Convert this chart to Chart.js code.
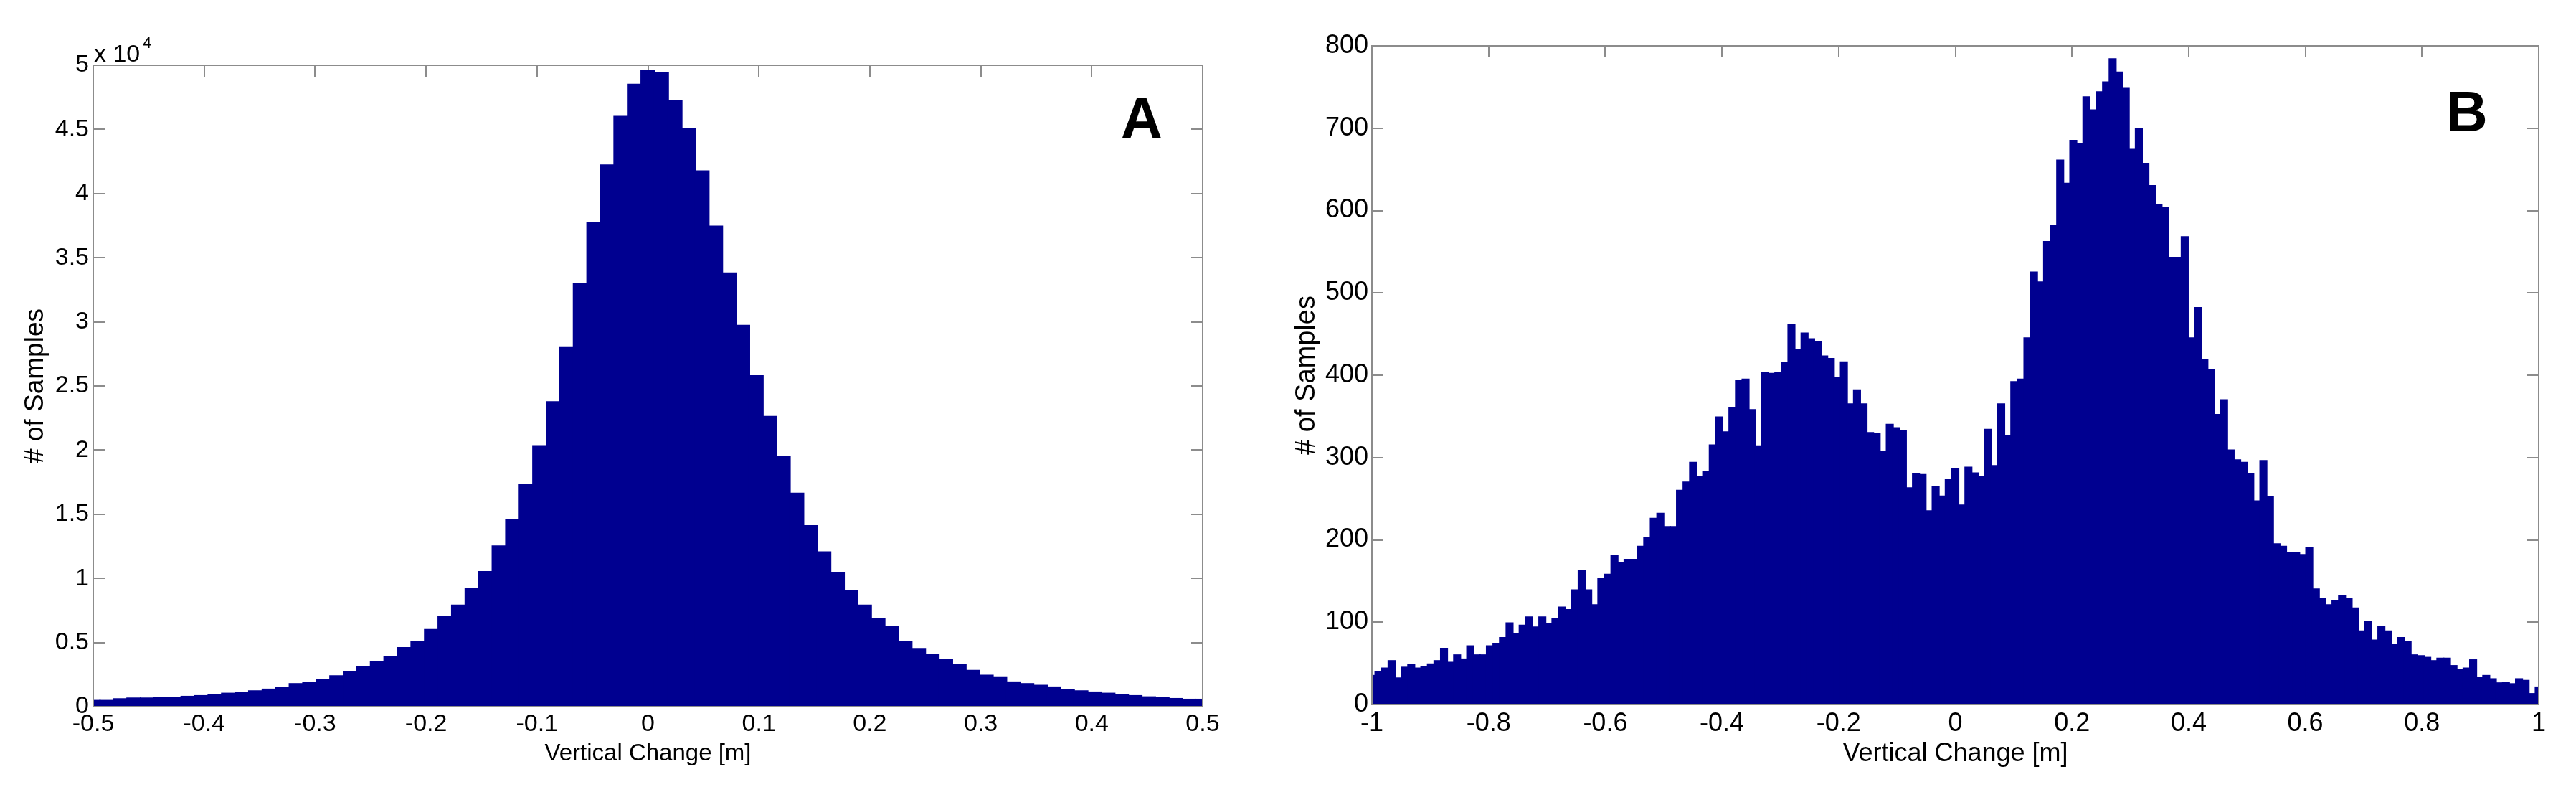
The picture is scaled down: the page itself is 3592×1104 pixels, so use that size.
<!DOCTYPE html>
<html>
<head>
<meta charset="utf-8">
<title>Vertical change histograms</title>
<script src="https://cdn.jsdelivr.net/npm/chart.js@4/dist/chart.umd.min.js"></script>
<style>
  html, body { margin: 0; padding: 0; background: #fff; }
  #wrap { position: relative; width: 3592px; height: 1104px; }
  canvas { position: absolute; top: 0; }
  #chartA { left: 0; }
  #chartB { left: 1800px; }
</style>
</head>
<body>
<div id="wrap">
  <canvas id="chartA" width="1800" height="1104"></canvas>
  <canvas id="chartB" width="1792" height="1104"></canvas>
</div>
<script>
// panel A: 83 bins, centres from -0.5 to 0.5
const binStartA = -0.5;
const binWidthA = 1 / 82;
const countsA = [
  470, 470, 600, 655, 655, 693, 693, 787, 843, 899,
  1030, 1105, 1217, 1349, 1498, 1779, 1873, 2098, 2397, 2716,
  3090, 3503, 3896, 4589, 5095, 5994, 7000, 7900, 9220, 10520,
  12520, 14540, 17320, 20330, 23750, 28030, 32950, 37750, 42210, 46000,
  48510, 49600, 49400, 47220, 45040, 41750, 37450, 33800, 29710, 25780,
  22610, 19500, 16620, 14090, 12050, 10420, 9050, 7900, 6850, 6210,
  5090, 4520, 4027, 3652, 3240, 2810, 2435, 2304, 1910, 1779,
  1648, 1517, 1330, 1217, 1124, 1030, 899, 843, 749, 693,
  618, 562, 562
];

// panel B: 179 bins, centres from -1 to 1
const binStartB = -1;
const binWidthB = 2 / 178;
const countsB = [
  35, 40, 44, 53, 32, 45, 48, 44, 46, 49,
  53, 68, 51, 60, 55, 71, 60, 60, 71, 74,
  81, 99, 86, 96, 106, 94, 106, 98, 104, 118,
  115, 139, 162, 139, 121, 153, 158, 181, 172, 176,
  176, 192, 203, 226, 232, 216, 216, 260, 270, 294,
  277, 283, 315, 349, 331, 360, 393, 395, 358, 314,
  403, 402, 403, 415, 461, 431, 451, 444, 441, 423,
  420, 397, 416, 365, 382, 365, 330, 329, 307, 340,
  336, 332, 263, 280, 279, 235, 265, 253, 273, 286,
  242, 288, 281, 277, 334, 290, 365, 326, 392, 395,
  445, 525, 513, 562, 582, 661, 633, 685, 681, 738,
  722, 744, 756, 784, 768, 749, 674, 699, 657, 630,
  607, 603, 543, 543, 568, 445, 482, 419, 406, 352,
  370, 309, 297, 294, 280, 247, 296, 252, 195, 192,
  184, 184, 182, 190, 140, 128, 121, 126, 132, 129,
  117, 89, 101, 78, 95, 89, 73, 81, 76, 60,
  59, 57, 53, 56, 56, 47, 42, 44, 54, 33,
  35, 31, 26, 27, 25, 31, 29, 13, 21
];

const xTitle = 'Vertical Change [m]';
const yTitle = '# of Samples';

const BAR = '#000090';
const AXIS = '#8c8c8c';
const TICK = 16;

Chart.defaults.font.family = '"Liberation Sans", Arial, Helvetica, sans-serif';
Chart.defaults.color = '#000';

// matlab style box: inward ticks under the bars, frame on top
const matlabBox = {
  id: 'matlabBox',
  beforeDatasetsDraw(chart){
    const { ctx, chartArea: a, scales: { x, y } } = chart;
    ctx.save();
    ctx.strokeStyle = AXIS; ctx.lineWidth = 2;
    ctx.beginPath();
    x.ticks.forEach(t => {
      const p = Math.round(x.getPixelForValue(t.value));
      ctx.moveTo(p, a.bottom); ctx.lineTo(p, a.bottom - TICK);
      ctx.moveTo(p, a.top); ctx.lineTo(p, a.top + TICK);
    });
    y.ticks.forEach(t => {
      const p = Math.round(y.getPixelForValue(t.value));
      ctx.moveTo(a.left, p); ctx.lineTo(a.left + TICK, p);
      ctx.moveTo(a.right, p); ctx.lineTo(a.right - TICK, p);
    });
    ctx.stroke();
    ctx.restore();
  },
  afterDatasetsDraw(chart){
    const { ctx, chartArea: a } = chart;
    ctx.save();
    ctx.strokeStyle = AXIS; ctx.lineWidth = 2;
    ctx.strokeRect(a.left, a.top, a.right - a.left, a.bottom - a.top);
    ctx.restore();
  }
};

// panel letter and exponent text, placed relative to the plot area
const notes = {
  id: 'notes',
  afterDraw(chart, args, opts){
    const { ctx, chartArea: a } = chart;
    (opts.items || []).forEach(it => {
      ctx.save();
      ctx.font = it.font;
      ctx.fillStyle = '#000';
      ctx.textBaseline = 'alphabetic';
      const x = it.fromRight ? a.right - it.dx : a.left + it.dx;
      ctx.fillText(it.text, x, a.top + it.dy);
      ctx.restore();
    });
  }
};

function makeHist(id, o){
  const pts = o.counts.map((c, i) => ({ x: o.start + i * o.width, y: c }));
  return new Chart(document.getElementById(id), {
    type: 'bar',
    data: { datasets: [{
      data: pts, backgroundColor: BAR, borderWidth: 0,
      barPercentage: 1, categoryPercentage: 1, inflateAmount: 1, clip: 0
    }] },
    options: {
      responsive: false, animation: false,
      layout: { padding: o.pad },
      plugins: { legend: { display: false }, tooltip: { enabled: false }, notes: { items: o.notes } },
      scales: {
        x: {
          type: 'linear', min: o.xmin, max: o.xmax, offset: false,
          grid: { display: false, drawTicks: false, offset: false }, border: { display: false },
          ticks: { stepSize: o.xstep, autoSkip: false, maxRotation: 0, padding: o.xpad,
                   font: { size: o.tickSize }, callback: v => String(Math.round(v * 10) / 10) },
          title: { display: true, text: xTitle, font: { size: o.xTitleSize }, padding: { top: 0, bottom: o.xTitlePad } },
          afterFit: s => { s.height = o.xh; }
        },
        y: {
          min: 0, max: o.ymax,
          grid: { display: false, drawTicks: false }, border: { display: false },
          ticks: { stepSize: o.ystep, autoSkip: false, padding: o.ypad,
                   font: { size: o.tickSize }, callback: o.yfmt },
          title: { display: true, text: yTitle, font: { size: o.yTitleSize }, padding: { top: o.yTitlePad, bottom: 0 } },
          afterFit: s => { s.width = o.yw; }
        }
      }
    },
    plugins: [matlabBox, notes]
  });
}

makeHist('chartA', {
  counts: countsA, start: binStartA, width: binWidthA,
  xmin: -0.5, xmax: 0.5, xstep: 0.1, ymax: 50000, ystep: 5000,
  yfmt: v => String(v / 10000),
  pad: { left: 0, top: 91, right: 123, bottom: 0 }, xh: 119, yw: 130,
  tickSize: 34, xpad: 4, ypad: 6, xTitleSize: 33, xTitlePad: 33, yTitleSize: 37, yTitlePad: 28,
  notes: [
    { text: 'x 10', font: '34px "Liberation Sans", Arial', dx: 1, dy: -5 },
    { text: '4', font: '22px "Liberation Sans", Arial', dx: 69, dy: -24 },
    { text: 'A', font: 'bold 80px "Liberation Sans", Arial', dx: 114, dy: 101, fromRight: true }
  ]
});

makeHist('chartB', {
  counts: countsB, start: binStartB, width: binWidthB,
  xmin: -1, xmax: 1, xstep: 0.2, ymax: 800, ystep: 100,
  yfmt: v => String(v),
  pad: { left: 0, top: 64, right: 52, bottom: 0 }, xh: 122, yw: 113,
  tickSize: 36, xpad: 5, ypad: 5, xTitleSize: 36, xTitlePad: 31, yTitleSize: 38, yTitlePad: 0,
  notes: [
    { text: 'B', font: 'bold 80px "Liberation Sans", Arial', dx: 129, dy: 119, fromRight: true }
  ]
});
</script>
</body>
</html>
